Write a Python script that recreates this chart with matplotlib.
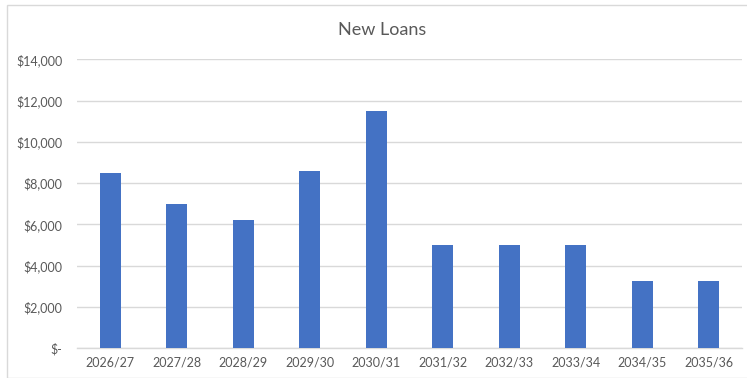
import matplotlib.pyplot as plt
from matplotlib.patches import Rectangle
from matplotlib.ticker import FuncFormatter

years = ["2026/27", "2027/28", "2028/29", "2029/30", "2030/31",
         "2031/32", "2032/33", "2033/34", "2034/35", "2035/36"]
new_loans = [8500, 7000, 6200, 8600, 11500, 5000, 5000, 5000, 3250, 3250]
y_ticks = [0, 2000, 4000, 6000, 8000, 10000, 12000, 14000]

plt.rcParams['font.family'] = ['Lato', 'DejaVu Sans']
text_grey = '#595959'
line_grey = '#D9D9D9'

fig = plt.figure(figsize=(7.47, 3.78), dpi=100)
ax = fig.add_axes([77 / 747, 1 - 348 / 378, (742 - 77) / 747, (348 - 59.3) / 378])

ax.bar(range(len(years)), new_loans, width=0.31, color='#4472C4', zorder=3)

ax.set_xlim(-0.5, len(years) - 0.5)
ax.set_ylim(0, 14000)
ax.set_yticks(y_ticks)
ax.yaxis.set_major_formatter(FuncFormatter(lambda v, p: '$-' if v == 0 else f'${v:,.0f}'))
ax.set_xticks(range(len(years)))
ax.set_xticklabels(years)

ax.grid(axis='y', color=line_grey, linewidth=1, zorder=0)
for s in ['top', 'right', 'left']:
    ax.spines[s].set_visible(False)
ax.spines['bottom'].set_color(line_grey)
ax.spines['bottom'].set_linewidth(1)
ax.tick_params(axis='both', length=0, labelsize=9, labelcolor=text_grey)
ax.tick_params(axis='y', pad=10.5)
ax.tick_params(axis='x', pad=6)

fig.text(382 / 747, 1 - 30 / 378, 'New Loans', ha='center', va='center',
         fontsize=13, color=text_grey)

# chart frame
fig.patches.append(Rectangle((7 / 747, 0), 1, 1 - 5 / 378, transform=fig.transFigure,
                             fill=False, edgecolor=line_grey, linewidth=1))

fig.savefig('out.png', dpi=100)
